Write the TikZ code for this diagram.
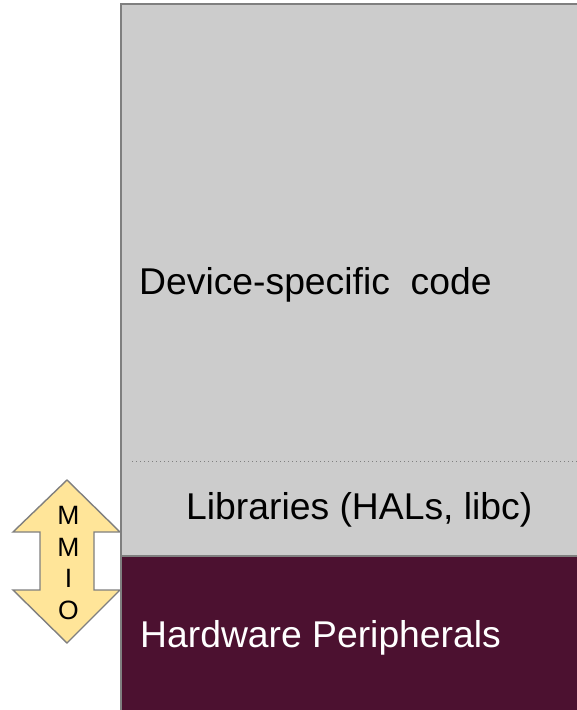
\documentclass[tikz,border=0pt]{standalone}
\usepackage{fontspec}
\setmainfont{Liberation Sans}
\definecolor{layergray}{HTML}{CCCCCC}
\definecolor{edgegray}{HTML}{7F7F7F}
\definecolor{hwpurple}{HTML}{4C1130}
\definecolor{mmioyellow}{HTML}{FFE599}
\begin{document}
\begin{tikzpicture}[x=1pt,y=-1pt,
  layer/.style={draw=edgegray, line width=1.6pt},
  bigtext/.style={inner sep=0pt, anchor=base west, font=\fontsize{37.3}{44}\selectfont},
  mmiotext/.style={inner sep=0pt, anchor=base, font=\fontsize{26.5}{31}\selectfont}]
  \useasboundingbox (0,0) rectangle (577,710);

  % software stack (grey) and hardware (purple)
  \fill[layergray] (121,4) rectangle (582,556);
  \fill[hwpurple] (121,556) rectangle (582,714);
  \draw[layer] (582,4) -- (121,4) -- (121,714);
  \draw[layer] (121,556) -- (582,556);

  % separator between application code and libraries
  \draw[edgegray, line width=1pt, dash pattern=on 1pt off 3pt] (132,461) -- (577,461);

  \node[bigtext] (dev) at (139,294) {Device-specific\ \ code};
  \node[bigtext] (libs) at (186,519) {Libraries (HALs, libc)};
  \node[bigtext, text=white] (hw) at (140,647) {Hardware Peripherals};

  % MMIO double arrow
  \draw[fill=mmioyellow, draw=edgegray, line width=1.4pt, line join=miter]
    (67,480) -- (120,532) -- (94,532) -- (94,590) -- (120,590) -- (67,643)
    -- (13,590) -- (40,590) -- (40,532) -- (13,532) -- cycle;
  \node[mmiotext] (m1) at (68.5,524) {M};
  \node[mmiotext] (m2) at (68.5,556) {M};
  \node[mmiotext] (i1) at (68.5,587) {I};
  \node[mmiotext] (o1) at (68.5,619) {O};
\end{tikzpicture}
\end{document}
